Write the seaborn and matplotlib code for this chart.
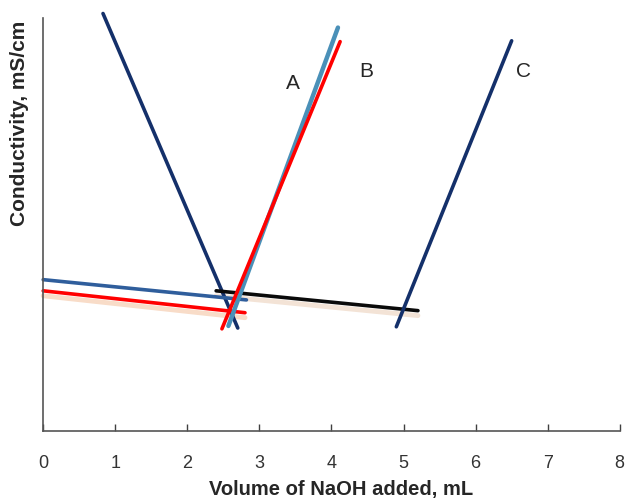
import numpy as np
import pandas as pd
import seaborn as sns
import matplotlib.pyplot as plt

# line segments (x in mL, y in arbitrary conductivity units)
a_desc_x = [0.83, 2.70]
a_desc_y = [101.0, 24.9]
a_asc_x = [2.57, 4.09]
a_asc_y = [25.4, 97.6]
a_flat_x = [0.0, 2.82]
a_flat_y = [36.6, 31.7]

b_asc_x = [2.48, 4.12]
b_asc_y = [24.7, 94.2]
b_flat_x = [0.0, 2.80]
b_flat_y = [33.9, 28.6]

c_flat_x = [2.40, 5.20]
c_flat_y = [33.9, 29.1]
c_asc_x = [4.90, 6.50]
c_asc_y = [25.2, 94.4]

sns.set_style("white")
plt.rcParams['font.family'] = ['Liberation Sans', 'DejaVu Sans']

fig = plt.figure(figsize=(6.26, 5.04), dpi=100)
ax = fig.add_axes([0.069, 0.145, 0.921, 0.82])

navy = '#14306a'
lw = 2.6

# faint shadows under some lines
sns.lineplot(x=b_flat_x, y=[v - 1.2 for v in b_flat_y], ax=ax, color='#f8dcc8', lw=3.5, clip_on=False)
sns.lineplot(x=c_flat_x, y=[v - 1.2 for v in c_flat_y], ax=ax, color='#f3e3d6', lw=3.5, clip_on=False)

sns.lineplot(x=a_desc_x, y=a_desc_y, ax=ax, color=navy, lw=lw, clip_on=False)
sns.lineplot(x=a_flat_x, y=a_flat_y, ax=ax, color='#2f5e9c', lw=lw, clip_on=False)
sns.lineplot(x=b_flat_x, y=b_flat_y, ax=ax, color='#ff0000', lw=lw, clip_on=False)
sns.lineplot(x=c_flat_x, y=c_flat_y, ax=ax, color='#0a0a0a', lw=lw, clip_on=False)
sns.lineplot(x=a_asc_x, y=a_asc_y, ax=ax, color='#4a90b8', lw=lw + 0.6, clip_on=False)
sns.lineplot(x=b_asc_x, y=b_asc_y, ax=ax, color='#ff0000', lw=lw, clip_on=False)
sns.lineplot(x=c_asc_x, y=c_asc_y, ax=ax, color=navy, lw=lw, clip_on=False)

ax.text(3.47, 84, 'A', fontsize=15, ha='center', va='center')
ax.text(4.48, 87, 'B', fontsize=15, ha='center', va='center')
ax.text(6.67, 87, 'C', fontsize=15, ha='center', va='center')

ax.set_xlim(0, 8)
ax.set_ylim(0, 100)
ax.set_xticks(np.arange(0, 9, 1))
ax.set_yticks([])
ax.tick_params(axis='x', direction='in', length=5, width=1, color='#404040',
               labelsize=13, labelcolor='#333333', pad=17, bottom=True)

for s in ['top', 'right']:
    ax.spines[s].set_visible(False)
for s in ['left', 'bottom']:
    ax.spines[s].set_color('#555555')
    ax.spines[s].set_linewidth(1.2)

ax.set_xlabel('Volume of NaOH added, mL', fontsize=14.5, fontweight='bold')
ax.xaxis.set_label_coords(0.516, -0.118)
ax.set_ylabel('Conductivity, mS/cm', fontsize=15, fontweight='bold')
ax.yaxis.set_label_coords(-0.024, 0.745)

plt.savefig('out.png', dpi=100)
